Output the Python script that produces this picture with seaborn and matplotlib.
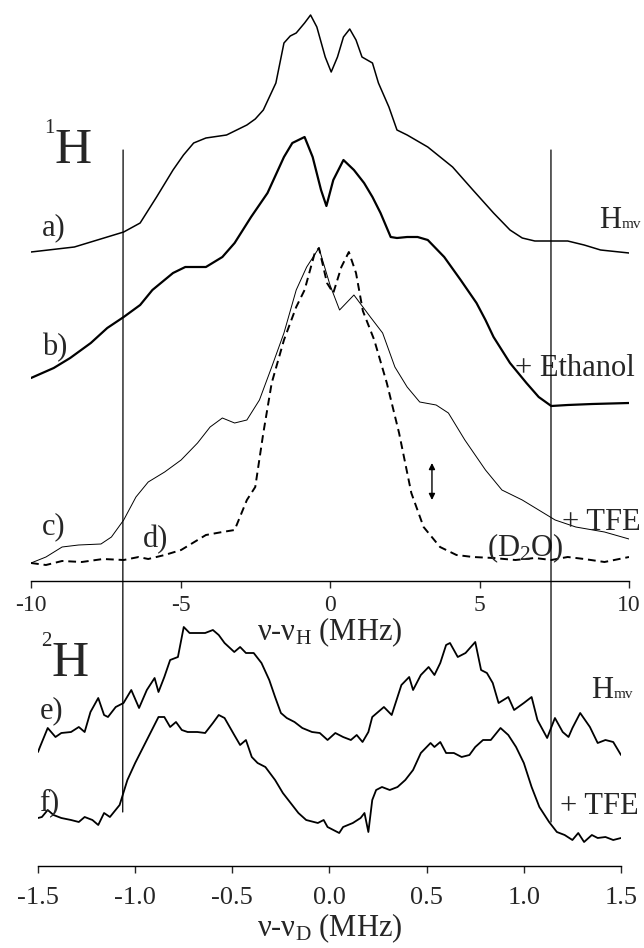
import numpy as np
import pandas as pd
import matplotlib
matplotlib.use('Agg')
import matplotlib.pyplot as plt
from matplotlib.patches import ConnectionPatch
import seaborn as sns

# --- 1H spectra (offset in MHz, stacked intensity in arb. units) ---
a_x = [-10, -8.55, -6.9, -6.35, -5.8, -5.25, -4.9, -4.56, -4.15, -3.46, -2.78, -2.5, -2.23, -1.81,
       -1.54, -1.33, -1.13, -0.85, -0.65, -0.44, -0.16, 0.04, 0.25, 0.45, 0.66, 0.87, 1.07, 1.42,
       1.62, 1.97, 2.24, 2.58, 3.27, 4.1, 4.78, 5.47, 6.02, 6.43, 6.85, 7.4, 7.95, 8.5, 9.05, 10]
a_y = [329, 334, 349, 358, 384, 411, 426, 438, 443, 446, 456, 462, 471, 498,
       538, 545, 548, 558, 566, 554, 524, 509, 524, 544, 552, 541, 524, 518,
       498, 474, 451, 446, 434, 414, 391, 368, 351, 343, 340, 340, 340, 336, 331, 328]

b_x = [-10, -9.24, -8.69, -8.0, -7.45, -6.9, -6.35, -5.94, -5.25, -4.84, -4.15, -3.6, -3.19, -2.64,
       -2.09, -1.54, -1.26, -0.85, -0.58, -0.3, -0.12, 0.11, 0.45, 0.8, 1.14, 1.42, 1.69, 2.03, 2.24,
       2.58, 2.93, 3.27, 3.82, 4.37, 4.9, 5.2, 5.47, 6.02, 6.57, 6.98, 7.4, 7.95, 8.77, 10]
b_y = [203, 213, 223, 238, 253, 264, 276, 291, 308, 314, 314, 324, 338, 364,
       388, 424, 438, 444, 424, 391, 375, 401, 421, 411, 398, 384, 368, 344, 343,
       344, 344, 341, 324, 301, 278, 261, 244, 218, 198, 184, 175, 176, 177, 178]

c_x = [-10, -9.5, -8.96, -8.41, -7.66, -7.31, -6.9, -6.49, -6.08, -5.53, -4.98, -4.43, -4.01, -3.6,
       -3.19, -2.78, -2.36, -1.95, -1.54, -1.13, -0.78, -0.37, 0.0, 0.32, 0.8, 1.35, 1.76, 2.17, 2.58,
       3.0, 3.55, 3.96, 4.51, 5.2, 5.75, 6.43, 6.98, 7.53, 8.22, 9.18, 10]
c_y = [18, 24, 34, 36, 37, 44, 61, 84, 99, 109, 121, 138, 154, 163,
       158, 161, 181, 214, 248, 291, 314, 333, 296, 271, 286, 264, 248, 214, 194,
       179, 176, 168, 141, 111, 91, 81, 71, 61, 54, 49, 42]

d_x = [-10, -9.5, -8.96, -8.3, -7.59, -6.9, -6.4, -6.08, -5.53, -4.98, -4.15, -3.6, -3.19, -2.78,
       -2.5, -2.23, -1.95, -1.54, -1.13, -0.85, -0.51, -0.37, -0.1, 0.11, 0.38, 0.63, 0.87, 1.1,
       1.48, 1.9, 2.31, 2.72, 3.13, 3.68, 4.23, 4.78, 5.47, 6.2, 6.85, 7.4, 7.95, 8.5, 9.18, 10]
d_y = [18, 16, 20, 19, 22, 21, 24, 22, 26, 31, 46, 49, 51, 81,
       94, 148, 198, 241, 274, 291, 328, 333, 298, 288, 314, 329, 308, 270,
       241, 198, 148, 88, 54, 34, 26, 24, 23, 21, 23, 21, 24, 22, 19, 24]

# --- 2H spectra ---
e_x = [-1.5, -1.49, -1.45, -1.41, -1.38, -1.33, -1.29, -1.26, -1.23, -1.19, -1.16, -1.14, -1.10,
       -1.06, -1.02, -0.98, -0.94, -0.90, -0.88, -0.85, -0.82, -0.78, -0.75, -0.72, -0.68, -0.64,
       -0.60, -0.57, -0.54, -0.49, -0.46, -0.43, -0.39, -0.35, -0.31, -0.28, -0.25, -0.22, -0.18,
       -0.14, -0.09, -0.05, -0.01, 0.03, 0.07, 0.11, 0.14, 0.17, 0.20, 0.22, 0.25, 0.28, 0.32, 0.35,
       0.37, 0.41, 0.43, 0.47, 0.51, 0.54, 0.57, 0.60, 0.62, 0.66, 0.70, 0.75, 0.78, 0.81, 0.84,
       0.87, 0.92, 0.95, 1.00, 1.04, 1.07, 1.12, 1.16, 1.20, 1.23, 1.25, 1.29, 1.34, 1.38, 1.42,
       1.46, 1.50]
e_y = [114, 119, 138, 129, 133, 134, 139, 134, 154, 168, 151, 149, 159,
       163, 176, 158, 176, 188, 174, 189, 206, 209, 239, 233, 233, 233,
       236, 231, 223, 214, 219, 213, 213, 203, 186, 169, 153, 148, 144,
       138, 134, 133, 126, 133, 129, 126, 131, 124, 134, 149, 154, 159, 151, 169,
       181, 189, 176, 191, 199, 191, 203, 221, 223, 209, 213, 224, 196, 193, 183,
       163, 169, 156, 163, 169, 146, 128, 148, 134, 129, 138, 153, 139, 123, 126,
       124, 111]

f_x = [-1.5, -1.48, -1.45, -1.42, -1.38, -1.33, -1.29, -1.26, -1.22, -1.19, -1.16, -1.13, -1.08,
       -1.04, -1.00, -0.94, -0.88, -0.85, -0.82, -0.79, -0.76, -0.73, -0.68, -0.64, -0.60, -0.57,
       -0.54, -0.49, -0.46, -0.43, -0.40, -0.37, -0.33, -0.28, -0.24, -0.20, -0.16, -0.12, -0.06,
       -0.03, -0.01, 0.02, 0.05, 0.07, 0.12, 0.16, 0.18, 0.20, 0.22, 0.24, 0.27, 0.31, 0.35, 0.39,
       0.43, 0.47, 0.52, 0.54, 0.57, 0.60, 0.64, 0.68, 0.72, 0.75, 0.79, 0.83, 0.88, 0.92, 0.96,
       1.00, 1.04, 1.08, 1.13, 1.17, 1.21, 1.25, 1.28, 1.31, 1.35, 1.38, 1.42, 1.46, 1.50]
f_y = [48, 49, 56, 51, 48, 46, 44, 49, 46, 41, 53, 49, 61,
       86, 103, 126, 149, 149, 139, 144, 136, 134, 134, 133, 143, 151,
       148, 131, 121, 126, 109, 103, 99, 86, 73, 63, 53, 46, 43,
       46, 39, 36, 33, 39, 43, 48, 53, 34, 66, 76, 79, 76, 79, 86,
       96, 113, 123, 119, 124, 113, 113, 109, 111, 119, 126, 126, 138, 131, 119,
       103, 79, 59, 44, 34, 31, 26, 33, 24, 31, 28, 29, 26, 28]

# marker lines (MHz) and arrow
h_marks = [-6.92, 7.39]
d_marks = [-1.064, 1.14]
arrow_x = 3.41
arrow_y = [81, 118]

sns.set_style('white')
plt.rcParams['font.family'] = ['Liberation Serif', 'DejaVu Serif']
plt.rcParams['mathtext.fontset'] = 'custom'
plt.rcParams['mathtext.rm'] = 'Liberation Serif'
plt.rcParams['mathtext.it'] = 'Liberation Serif:italic'


def label_with_sub(ax, x, y, main, sub, size, subsize, sup=False, **kw):
    # big letter with a small sub/superscript hung on its bbox
    t = ax.text(x, y, main, fontsize=size, va='center', **kw)
    if sup:
        ax.annotate(sub, xy=(0, 0.78), xycoords=t, fontsize=subsize,
                    ha='right', va='bottom', annotation_clip=False)
    else:
        ax.annotate(sub, xy=(1.02, 0.12), xycoords=t, fontsize=subsize,
                    ha='left', va='bottom', annotation_clip=False)
    return t


fig = plt.figure(figsize=(6.44, 9.48), dpi=100)
ax1 = fig.add_axes([31 / 644, 367 / 948, 598 / 644, 581 / 948])
ax2 = fig.add_axes([38 / 644, 82 / 948, 583 / 644, 266 / 948])
for ax in (ax1, ax2):
    ax.patch.set_alpha(0)
    for s in ('left', 'right', 'top'):
        ax.spines[s].set_visible(False)
    ax.spines['bottom'].set_linewidth(1.0)
    ax.spines['bottom'].set_color('black')
    ax.set_yticks([])

# top panel
sns.lineplot(x=a_x, y=a_y, ax=ax1, sort=False, estimator=None, color='black', lw=1.1)
sns.lineplot(x=b_x, y=b_y, ax=ax1, sort=False, estimator=None, color='black', lw=1.6)
sns.lineplot(x=c_x, y=c_y, ax=ax1, sort=False, estimator=None, color='black', lw=0.7)
sns.lineplot(x=d_x, y=d_y, ax=ax1, sort=False, estimator=None, color='black', lw=1.4)
ax1.lines[-1].set_linestyle((0, (4, 2.5)))
ax1.annotate('', xy=(arrow_x, arrow_y[0]), xytext=(arrow_x, arrow_y[1]),
             arrowprops=dict(arrowstyle='<|-|>', color='black', lw=1.0, mutation_scale=9,
                             shrinkA=0, shrinkB=0))
ax1.set_xlim(-10, 10)
ax1.set_ylim(0, 581)
ax1.set_xticks([-10, -5, 0, 5, 10])
ax1.set_xticklabels(['-10', '-5', '0', '5', '10'])
ax1.tick_params(axis='x', direction='out', length=5, width=1, pad=5, labelsize=17, bottom=True)
ax1.set_xlabel('ν-ν$_{\\mathrm{H}}$ (MHz)', fontsize=22, labelpad=0)
ax1.set_ylabel('')

fs = 22
label_with_sub(ax1, -9.2, 430, 'H', '1', 37, 15, sup=True, ha='left')
ax1.text(-9.23, 353, 'a)', fontsize=fs, ha='center', va='center')
ax1.text(-9.2, 233, 'b)', fontsize=fs, ha='center', va='center')
ax1.text(-9.23, 54, 'c)', fontsize=fs, ha='center', va='center')
ax1.text(-5.85, 41, 'd)', fontsize=fs, ha='center', va='center')
label_with_sub(ax1, 9.0, 361, 'H', 'mv', fs, 11, ha='left')
ax1.text(6.19, 213, '+ Ethanol', fontsize=fs, ha='left', va='center', clip_on=False)
ax1.text(7.76, 59, '+ TFE', fontsize=fs, ha='left', va='center', clip_on=False)
ax1.text(6.52, 33, '(D$_{2}$O)', fontsize=fs, ha='center', va='center')

# bottom panel
sns.lineplot(x=e_x, y=e_y, ax=ax2, sort=False, estimator=None, color='black', lw=1.3)
sns.lineplot(x=f_x, y=f_y, ax=ax2, sort=False, estimator=None, color='black', lw=1.3)
ax2.set_xlim(-1.5, 1.5)
ax2.set_ylim(0, 266)
ax2.set_xticks([-1.5, -1.0, -0.5, 0.0, 0.5, 1.0, 1.5])
ax2.set_xticklabels(['-1.5', '-1.0', '-0.5', '0.0', '0.5', '1.0', '1.5'])
ax2.tick_params(axis='x', direction='out', length=5, width=1, pad=10, labelsize=19, bottom=True)
ax2.set_xlabel('ν-ν$_{\\mathrm{D}}$ (MHz)', fontsize=22, labelpad=2)
ax2.set_ylabel('')

label_with_sub(ax2, -1.43, 202, 'H', '2', 37, 15, sup=True, ha='left')
ax2.text(-1.43, 155, 'e)', fontsize=fs, ha='center', va='center')
ax2.text(-1.44, 63, 'f)', fontsize=fs, ha='center', va='center')
label_with_sub(ax2, 1.345, 176, 'H', 'mv', fs, 11, ha='left')
ax2.text(1.39, 59, '+ TFE', fontsize=fs, ha='center', va='center', clip_on=False)

# vertical reference lines spanning both panels
for hx, dx, y_end in zip(h_marks, d_marks, [54, 44]):
    con = ConnectionPatch(xyA=(hx, 431), coordsA=ax1.transData,
                          xyB=(dx, y_end), coordsB=ax2.transData,
                          color='black', lw=0.9)
    fig.add_artist(con)

fig.savefig('out.png', dpi=100)
plt.close(fig)
